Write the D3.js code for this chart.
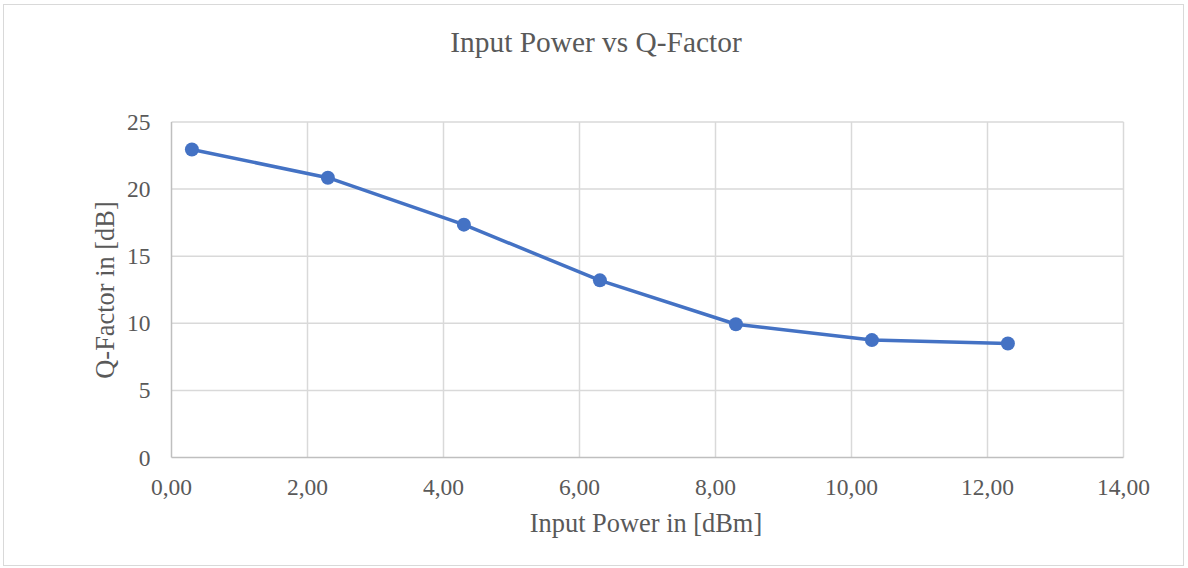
<!DOCTYPE html>
<html><head><meta charset="utf-8">
<script src="https://cdn.jsdelivr.net/npm/d3@7"></script>
<style>body{margin:0;background:#fff}</style>
</head><body>
<svg id="c" width="1188" height="568"></svg>
<script>
const inputPower = [0.3, 2.3, 4.3, 6.3, 8.3, 10.3, 12.3];
const qFactor = [22.95, 20.85, 17.35, 13.2, 9.93, 8.75, 8.5];
const xTicks = [0, 2, 4, 6, 8, 10, 12, 14];
const yTicks = [0, 5, 10, 15, 20, 25];
const titleText = "Input Power vs Q-Factor";
const xTitle = "Input Power in [dBm]";
const yTitle = "Q-Factor in [dB]";

const svg = d3.select("#c");
const font = "'Liberation Serif','Times New Roman',serif";
const txt = "#595959";
svg.append("rect").attr("x",3.5).attr("y",4.5).attr("width",1180).attr("height",561)
  .attr("fill","#fff").attr("stroke","#d9d9d9").attr("stroke-width",1);

const x = d3.scaleLinear().domain([0,14]).range([171.5,1123.5]);
const y = d3.scaleLinear().domain([0,25]).range([457.5,122]);

const g = svg.append("g");
// gridlines
g.append("g").selectAll("line").data(yTicks.filter(d=>d>0)).join("line")
  .attr("x1",x(0)).attr("x2",x(14)).attr("y1",d=>y(d)).attr("y2",d=>y(d))
  .attr("stroke","#d9d9d9").attr("stroke-width",1.5);
g.append("g").selectAll("line").data(xTicks.filter(d=>d>0)).join("line")
  .attr("x1",d=>x(d)).attr("x2",d=>x(d)).attr("y1",y(0)).attr("y2",y(25))
  .attr("stroke","#d9d9d9").attr("stroke-width",1.5);
// axis lines
g.append("line").attr("x1",x(0)).attr("x2",x(0)).attr("y1",y(0)).attr("y2",y(25))
  .attr("stroke","#bfbfbf").attr("stroke-width",1.5);
g.append("line").attr("x1",x(0)).attr("x2",x(14)).attr("y1",y(0)).attr("y2",y(0))
  .attr("stroke","#bfbfbf").attr("stroke-width",1.5);

// tick labels
const fmt = d => d3.format(".2f")(d).replace(".", ",");
g.append("g").selectAll("text").data(xTicks).join("text")
  .attr("x",d=>x(d)).attr("y",y(0)+37).attr("text-anchor","middle")
  .attr("font-family",font).attr("font-size",23.5).attr("fill",txt).text(fmt);
g.append("g").selectAll("text").data(yTicks).join("text")
  .attr("x",x(0)-21).attr("y",d=>y(d)+8).attr("text-anchor","end")
  .attr("font-family",font).attr("font-size",23.5).attr("fill",txt).text(d=>d);

// titles
svg.append("text").attr("x",596).attr("y",52).attr("text-anchor","middle")
  .attr("font-family",font).attr("font-size",29.4).attr("fill",txt).text(titleText);
svg.append("text").attr("x",646).attr("y",532).attr("text-anchor","middle")
  .attr("font-family",font).attr("font-size",26.4).attr("fill",txt).text(xTitle);
svg.append("text").attr("transform","translate(114,290) rotate(-90)").attr("text-anchor","middle")
  .attr("font-family",font).attr("font-size",26.4).attr("fill",txt).text(yTitle);

// series
const data = inputPower.map((d,i)=>({x:d,y:qFactor[i]}));
g.append("path").datum(data)
  .attr("d",d3.line().x(d=>x(d.x)).y(d=>y(d.y)))
  .attr("fill","none").attr("stroke","#4472C4").attr("stroke-width",3.5).attr("stroke-linejoin","round");
g.append("g").selectAll("circle").data(data).join("circle")
  .attr("cx",d=>x(d.x)).attr("cy",d=>y(d.y)).attr("r",7).attr("fill","#4472C4");
</script>
</body></html>
